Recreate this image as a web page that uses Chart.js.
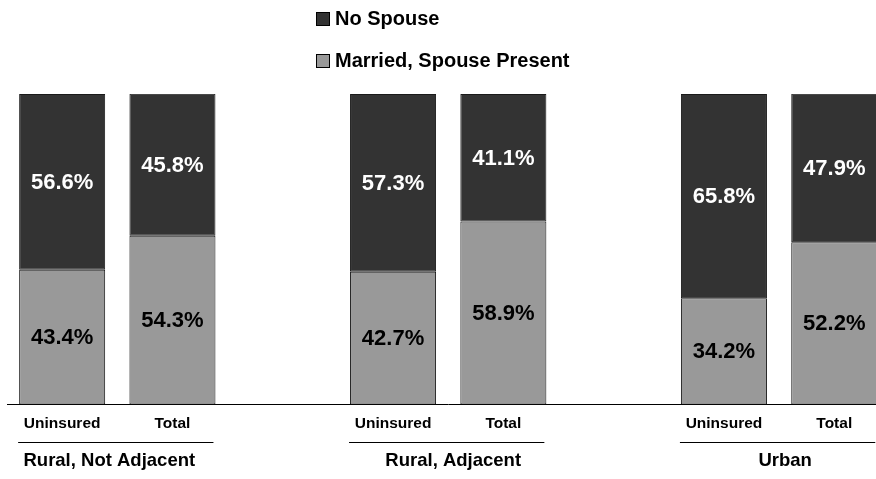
<!DOCTYPE html>
<html lang="en">
    <head>
        <meta charset="UTF-8" />
        <title>Spouse status by residence</title>
        <script src="https://cdn.jsdelivr.net/npm/chart.js"></script>
        <style>
            html, body { margin: 0; padding: 0; overflow: hidden; background: #fff; }
            #wrap { width: 892px; height: 479px; position: relative; }
        </style>
    </head>
    <body>
        <div id="wrap"><canvas id="spouseChart"></canvas></div>
        <script>
            // bars, with an empty slot between the three groups
            const categories = ["Uninsured", "Total", "", "Uninsured", "Total", "", "Uninsured", "Total"];
            const groups = ["Rural, Not Adjacent", "Rural, Adjacent", "Urban"];
            const married = [43.4, 54.3, null, 42.7, 58.9, null, 34.2, 52.2];
            const noSpouse = [56.6, 45.8, null, 57.3, 41.1, null, 65.8, 47.9];

            const darkColor = "#333333";
            const grayColor = "#999999";
            const labelFont = "bold 22px 'Liberation Sans Narrow', 'Liberation Sans', Arial, sans-serif";

            // percentages inside each segment
            const valueLabels = {
                id: "valueLabels",
                afterDatasetsDraw(chart) {
                    const ctx = chart.ctx;
                    ctx.save();
                    ctx.font = labelFont;
                    ctx.textAlign = "center";
                    ctx.textBaseline = "middle";
                    chart.data.datasets.forEach((ds, di) => {
                        const meta = chart.getDatasetMeta(di);
                        ctx.fillStyle = di === 0 ? "#000" : "#fff";
                        meta.data.forEach((bar, i) => {
                            const v = ds.data[i];
                            if (v == null) return;
                            ctx.fillText(v.toFixed(1) + "%", bar.x, (bar.y + bar.base) / 2 + 1);
                        });
                    });
                    ctx.restore();
                },
            };

            // group underline + group names under the tick labels
            const groupLabels = {
                id: "groupLabels",
                afterDraw(chart) {
                    const ctx = chart.ctx;
                    const meta = chart.getDatasetMeta(0);
                    const shift = [-8, 5, 6];
                    ctx.save();
                    ctx.strokeStyle = "#000";
                    ctx.lineWidth = 1;
                    ctx.fillStyle = "#000";
                    ctx.font = "bold 18.5px 'Liberation Sans', Arial, sans-serif";
                    ctx.textAlign = "center";
                    ctx.textBaseline = "middle";
                    groups.forEach((name, g) => {
                        const a = meta.data[g * 3];
                        const b = meta.data[g * 3 + 1];
                        const left = a.x - a.width / 2 - 1;
                        const right = b.x + b.width / 2 - 2;
                        ctx.beginPath();
                        ctx.moveTo(left, 442.5);
                        ctx.lineTo(right, 442.5);
                        ctx.stroke();
                        ctx.fillText(name, (a.x + b.x) / 2 + shift[g], 461);
                    });
                    ctx.restore();
                },
            };

            // stacked legend, one item per row
            const stackedLegend = {
                id: "stackedLegend",
                afterDraw(chart) {
                    const ctx = chart.ctx;
                    const items = [chart.data.datasets[1], chart.data.datasets[0]];
                    ctx.save();
                    ctx.font = "bold 20px 'Liberation Sans', Arial, sans-serif";
                    ctx.textAlign = "left";
                    ctx.textBaseline = "middle";
                    items.forEach((ds, i) => {
                        const y = 19 + i * 42;
                        ctx.fillStyle = ds.backgroundColor;
                        ctx.fillRect(316.5, y - 6.5, 13, 13);
                        ctx.strokeStyle = "#000";
                        ctx.lineWidth = 1;
                        ctx.strokeRect(316.5, y - 6.5, 13, 13);
                        ctx.fillStyle = "#000";
                        ctx.fillText(ds.label, 335, y);
                    });
                    ctx.restore();
                },
            };

            const ctx = document.getElementById("spouseChart").getContext("2d");
            const chart = new Chart(ctx, {
                type: "bar",
                data: {
                    labels: categories,
                    datasets: [
                        {
                            label: "Married, Spouse Present",
                            data: married,
                            backgroundColor: grayColor,
                            borderColor: "#1a1a1a",
                            borderWidth: 1,
                            borderSkipped: false,
                        },
                        {
                            label: "No Spouse",
                            data: noSpouse,
                            backgroundColor: darkColor,
                            borderColor: "#1a1a1a",
                            borderWidth: 1,
                            borderSkipped: false,
                        },
                    ],
                },
                options: {
                    responsive: true,
                    maintainAspectRatio: false,
                    animation: false,
                    categoryPercentage: 1,
                    barPercentage: 0.78,
                    layout: {
                        padding: { left: 7, right: 2.6, top: 94, bottom: 36 },
                    },
                    plugins: {
                        legend: { display: false },
                        tooltip: { enabled: false },
                    },
                    scales: {
                        x: {
                            stacked: true,
                            grid: { display: false, drawTicks: false },
                            border: { display: true, color: "#000", width: 1 },
                            ticks: {
                                padding: 10,
                                color: "#000",
                                maxRotation: 0,
                                autoSkip: false,
                                font: { family: "'Liberation Sans', Arial, sans-serif", size: 15.5, weight: "bold" },
                            },
                        },
                        y: {
                            stacked: true,
                            display: false,
                            min: 0,
                            max: 100,
                        },
                    },
                },
                plugins: [valueLabels, groupLabels, stackedLegend],
            });
        </script>
    </body>
</html>
